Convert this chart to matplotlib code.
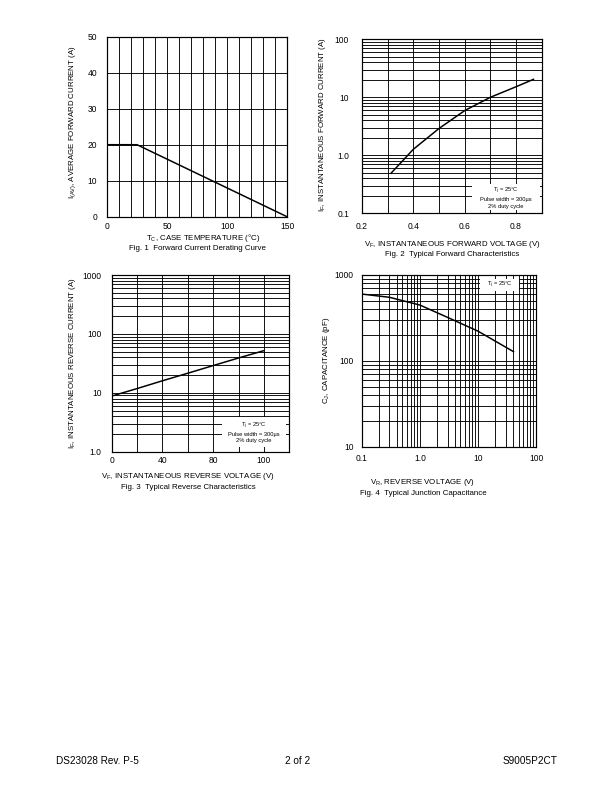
import numpy as np
import matplotlib
matplotlib.use("Agg")
import matplotlib.pyplot as plt
from matplotlib.patches import Rectangle
from matplotlib.ticker import FixedLocator, NullFormatter, LogLocator

plt.rcParams['font.family'] = ['Liberation Sans', 'DejaVu Sans']
plt.rcParams['mathtext.fontset'] = 'custom'
plt.rcParams['mathtext.rm'] = 'Liberation Sans'
plt.rcParams['mathtext.it'] = 'Liberation Sans:italic'

# Fig. 1 - forward current derating
fig1_temp = [0, 25, 150]
fig1_current = [20, 20, 0]

# Fig. 2 - typical forward characteristics
fig2_vf = [0.313, 0.4, 0.5, 0.6, 0.7, 0.8, 0.868]
fig2_if = [0.49, 1.27, 2.9, 5.9, 10.0, 15.2, 20.4]

# Fig. 3 - typical reverse characteristics (x in grid units, labels as printed)
fig3_vr = [0, 20, 40, 60, 80, 100, 120]
fig3_ir = [8.8, 11.8, 16.0, 21.5, 29.0, 39.0, 52.0]
fig3_ticks = [0, 40, 80, 120]
fig3_ticklabels = ['0', '40', '80', '100']

# Fig. 4 - typical junction capacitance
fig4_vr = [0.1, 0.3, 1.0, 3.0, 10.0, 41.0]
fig4_cj = [600, 550, 447, 321, 222, 128]

W, H = 612, 792
fig = plt.figure(figsize=(W / 72, H / 72), dpi=72)

LAB = 7.9   # axis labels / captions
TCK = 8.5   # tick labels
NOTE = 5.8  # condition boxes


def box(l, t, r, b):
    return [l / W, 1 - b / H, (r - l) / W, (b - t) / H]


def ftext(x, y, s, **kw):
    kw.setdefault('ha', 'center')
    kw.setdefault('va', 'center')
    kw.setdefault('fontsize', LAB)
    fig.text(x / W, 1 - y / H, s, **kw)


def style(ax, xpad, ypad):
    ax.grid(True, which='both', color='black', linewidth=0.9)
    ax.set_axisbelow(True)
    ax.tick_params(which='both', length=0, labelsize=TCK)
    ax.tick_params(axis='x', pad=xpad)
    ax.tick_params(axis='y', pad=ypad)
    for s in ax.spines.values():
        s.set_linewidth(1.2)


def note(ax, x0, y0, x1, y1, lines):
    ax.add_patch(Rectangle((x0, y0), x1 - x0, y1 - y0, transform=ax.transAxes,
                           facecolor='white', edgecolor='none', zorder=3))
    ax.text((x0 + x1) / 2, (y0 + y1) / 2, "\n".join(lines), transform=ax.transAxes,
            ha='center', va='center', fontsize=NOTE, zorder=4, linespacing=1.35)


# ---- Fig 1
ax1 = fig.add_axes(box(107, 36.7, 287, 216.7))
ax1.plot(fig1_temp, fig1_current, color='black', linewidth=1.5)
ax1.set_xlim(0, 150)
ax1.set_ylim(0, 50)
ax1.xaxis.set_major_locator(FixedLocator([0, 50, 100, 150]))
ax1.xaxis.set_minor_locator(FixedLocator(np.arange(0, 151, 10)))
ax1.yaxis.set_major_locator(FixedLocator(np.arange(0, 51, 10)))
style(ax1, 5, 10)
ftext(203, 238, r'T$_{\mathrm{C}}$, CASE TEMPERATURE (°C)')
ftext(197, 248, 'Fig. 1  Forward Current Derating Curve')
ftext(73, 122, r'I$_{\mathrm{(AV)}}$, AVERAGE FORWARD CURRENT (A)', rotation=90)

# ---- Fig 2
ax2 = fig.add_axes(box(362, 39.3, 541.7, 213.3))
ax2.plot(fig2_vf, fig2_if, color='black', linewidth=1.5)
ax2.set_yscale('log')
ax2.set_xlim(0.2, 0.9)
ax2.set_ylim(0.1, 100)
ax2.xaxis.set_major_locator(FixedLocator([0.2, 0.4, 0.6, 0.8]))
ax2.xaxis.set_minor_locator(FixedLocator(np.arange(0.2, 0.91, 0.1)))
ax2.yaxis.set_major_locator(FixedLocator([0.1, 1, 10, 100]))
ax2.yaxis.set_minor_locator(LogLocator(subs=np.arange(2, 10)))
ax2.yaxis.set_minor_formatter(NullFormatter())
ax2.set_yticklabels(['0.1', '1.0', '10', '100'])
style(ax2, 9, 13)
note(ax2, 0.612, 0.019, 0.99, 0.168, ['T$_{\\mathrm{j}}$ = 25°C', 'Pulse width = 300µs', '2% duty cycle'])
ftext(452, 244, r'V$_{\mathrm{F}}$, INSTANTANEOUS FORWARD VOLTAGE (V)')
ftext(452, 255, 'Fig. 2  Typical Forward Characteristics')
ftext(323, 125, r'I$_{\mathrm{F}}$, INSTANTANEOUS FORWARD CURRENT (A)', rotation=90)

# ---- Fig 3
ax3 = fig.add_axes(box(111.7, 275, 289.3, 451.7))
ax3.plot(fig3_vr, fig3_ir, color='black', linewidth=1.5)
ax3.set_yscale('log')
ax3.set_xlim(0, 140)
ax3.set_ylim(1, 1000)
ax3.xaxis.set_major_locator(FixedLocator(fig3_ticks))
ax3.xaxis.set_minor_locator(FixedLocator(np.arange(0, 141, 20)))
ax3.set_xticklabels(fig3_ticklabels)
ax3.yaxis.set_major_locator(FixedLocator([1, 10, 100, 1000]))
ax3.yaxis.set_minor_locator(LogLocator(subs=np.arange(2, 10)))
ax3.yaxis.set_minor_formatter(NullFormatter())
ax3.set_yticklabels(['1.0', '10', '100', '1000'])
style(ax3, 4, 10)
note(ax3, 0.619, 0.027, 0.98, 0.198, ['T$_{\\mathrm{j}}$ = 25°C', 'Pulse width = 300µs', '2% duty cycle'])
ftext(188, 476.7, r'V$_{\mathrm{F}}$, INSTANTANEOUS REVERSE VOLTAGE (V)')
ftext(188, 487, 'Fig. 3  Typical Reverse Characteristics')
ftext(73, 363, r'I$_{\mathrm{F}}$, INSTANTANEOUS REVERSE CURRENT (A)', rotation=90)

# ---- Fig 4
ax4 = fig.add_axes(box(361.7, 275, 536, 446.7))
ax4.plot(fig4_vr, fig4_cj, color='black', linewidth=1.5)
ax4.set_xscale('log')
ax4.set_yscale('log')
ax4.set_xlim(0.1, 100)
ax4.set_ylim(10, 1000)
ax4.xaxis.set_major_locator(FixedLocator([0.1, 1, 10, 100]))
ax4.xaxis.set_minor_locator(LogLocator(subs=np.arange(2, 10)))
ax4.xaxis.set_minor_formatter(NullFormatter())
ax4.set_xticklabels(['0.1', '1.0', '10', '100'])
ax4.yaxis.set_major_locator(FixedLocator([10, 100, 1000]))
ax4.yaxis.set_minor_locator(LogLocator(subs=np.arange(2, 10)))
ax4.yaxis.set_minor_formatter(NullFormatter())
ax4.set_yticklabels(['10', '100', '1000'])
style(ax4, 7, 8)
note(ax4, 0.68, 0.905, 0.905, 0.978, ['T$_{\\mathrm{j}}$ = 25°C'])
ftext(423, 482.7, r'V$_{\mathrm{R}}$, REVERSE VOLTAGE (V)')
ftext(423, 493.3, 'Fig. 4  Typical Junction Capacitance')
ftext(326, 360, r'C$_{\mathrm{J}}$, CAPACITANCE (pF)', rotation=90)

# ---- footer
ftext(56, 761, 'DS23028 Rev. P-5', fontsize=10, ha='left')
ftext(298, 761, '2 of 2', fontsize=10)
ftext(557, 761, 'S9005P2CT', fontsize=10, ha='right')

fig.savefig('out.png', dpi=72, facecolor='white')
